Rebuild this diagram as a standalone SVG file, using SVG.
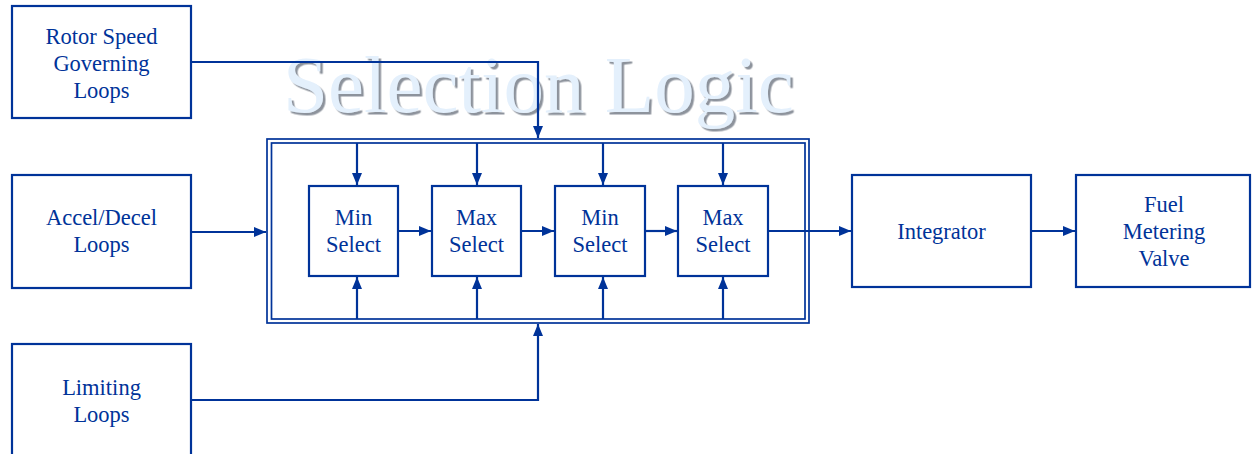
<svg xmlns="http://www.w3.org/2000/svg" width="1252" height="454" viewBox="0 0 1252 454">
<style>
.box{fill:#fff;stroke:#003399;stroke-width:2.2}
.frame{fill:none;stroke:#003399;stroke-width:1.7}
.lbl{font-family:"Liberation Serif","Times New Roman",serif;font-size:22.5px;fill:#003399;text-anchor:middle}
.ln{fill:none;stroke:#003399;stroke-width:2.2}
.title{font-family:"Liberation Serif","Times New Roman",serif;font-size:81px;fill:#e4f0fc}
</style>
<defs>
<marker id="ah" markerUnits="userSpaceOnUse" markerWidth="13" markerHeight="11" refX="12" refY="5" orient="auto">
<path d="M0,0 L12,5 L0,10 z" fill="#003399"/>
</marker>
<filter id="shadow" x="-5%" y="-10%" width="110%" height="130%">
<feDropShadow dx="2.5" dy="2.5" stdDeviation="0.4" flood-color="#8d939c" flood-opacity="1"/>
</filter>
</defs>
<rect width="1252" height="454" fill="#fff"/>
<g id="title">
<text class="title" x="283" y="112" filter="url(#shadow)">Selection Logic</text>
</g>
<g id="selection-frame">
<rect class="frame" x="267" y="139" width="542" height="184"/>
<rect class="frame" x="271.5" y="143" width="533.5" height="176"/>
</g>
<g id="rotor">
<rect class="box" x="12" y="6" width="179" height="112"/>
<text class="lbl" x="101.5" y="44">Rotor Speed</text>
<text class="lbl" x="101.5" y="71">Governing</text>
<text class="lbl" x="101.5" y="98">Loops</text>
</g>
<g id="accel">
<rect class="box" x="12" y="175" width="179" height="113"/>
<text class="lbl" x="101.5" y="225">Accel/Decel</text>
<text class="lbl" x="101.5" y="252">Loops</text>
</g>
<g id="limiting">
<rect class="box" x="12" y="344" width="179" height="120"/>
<text class="lbl" x="101.5" y="395">Limiting</text>
<text class="lbl" x="101.5" y="422">Loops</text>
</g>
<g id="min1">
<rect class="box" x="309" y="186" width="89" height="90"/>
<text class="lbl" x="353.5" y="225">Min</text>
<text class="lbl" x="353.5" y="252">Select</text>
</g>
<g id="max1">
<rect class="box" x="432" y="186" width="89" height="90"/>
<text class="lbl" x="476.5" y="225">Max</text>
<text class="lbl" x="476.5" y="252">Select</text>
</g>
<g id="min2">
<rect class="box" x="555" y="186" width="90" height="90"/>
<text class="lbl" x="600" y="225">Min</text>
<text class="lbl" x="600" y="252">Select</text>
</g>
<g id="max2">
<rect class="box" x="678" y="186" width="90" height="90"/>
<text class="lbl" x="723" y="225">Max</text>
<text class="lbl" x="723" y="252">Select</text>
</g>
<g id="integrator">
<rect class="box" x="852" y="175" width="179" height="112"/>
<text class="lbl" x="941.5" y="239">Integrator</text>
</g>
<g id="fuel">
<rect class="box" x="1076" y="175" width="174" height="112"/>
<text class="lbl" x="1164" y="212">Fuel</text>
<text class="lbl" x="1164" y="239">Metering</text>
<text class="lbl" x="1164" y="266">Valve</text>
</g>
<g id="connectors">
<path class="ln" d="M191,62 H538 V138" marker-end="url(#ah)"/>
<path class="ln" d="M191,232 H266" marker-end="url(#ah)"/>
<path class="ln" d="M191,400 H538 V324" marker-end="url(#ah)"/>
<path class="ln" d="M357,143 V185" marker-end="url(#ah)"/>
<path class="ln" d="M477,143 V185" marker-end="url(#ah)"/>
<path class="ln" d="M603,143 V185" marker-end="url(#ah)"/>
<path class="ln" d="M723,143 V185" marker-end="url(#ah)"/>
<path class="ln" d="M357,319 V277" marker-end="url(#ah)"/>
<path class="ln" d="M477,319 V277" marker-end="url(#ah)"/>
<path class="ln" d="M603,319 V277" marker-end="url(#ah)"/>
<path class="ln" d="M723,319 V277" marker-end="url(#ah)"/>
<path class="ln" d="M398,231 H431" marker-end="url(#ah)"/>
<path class="ln" d="M521,231 H554" marker-end="url(#ah)"/>
<path class="ln" d="M645,231 H677" marker-end="url(#ah)"/>
<path class="ln" d="M768,231 H851" marker-end="url(#ah)"/>
<path class="ln" d="M1031,231 H1075" marker-end="url(#ah)"/>
</g>
</svg>
